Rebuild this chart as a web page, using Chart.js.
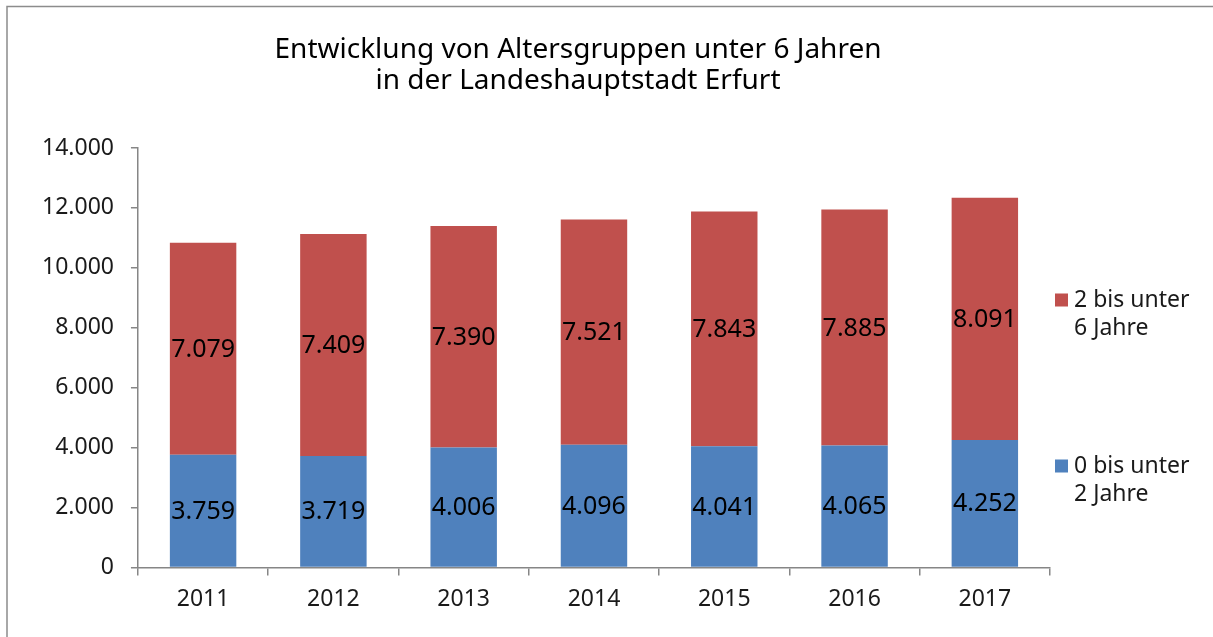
<!DOCTYPE html>
<html><head><meta charset="utf-8">
<script src="https://cdn.jsdelivr.net/npm/chart.js@4.4.0/dist/chart.umd.min.js"></script>
<style>html,body{margin:0;padding:0;background:#fff;}#wrap{width:1213px;height:637px;}</style>
</head><body><div id="wrap"><canvas id="c" width="1213" height="637"></canvas></div>
<script>
const categories = ['2011','2012','2013','2014','2015','2016','2017'];
const age0to2 = [3759,3719,4006,4096,4041,4065,4252];
const age2to6 = [7079,7409,7390,7521,7843,7885,8091];
const seriesNames = [['0 bis unter','2 Jahre'], ['2 bis unter','6 Jahre']];
const seriesColors = ['#4F81BD', '#C0504D'];
const titleLines = ['Entwicklung von Altersgruppen unter 6 Jahren', 'in der Landeshauptstadt Erfurt'];
const yMin = 0, yMax = 14000, yStep = 2000;

const FONT = "'Noto Sans', sans-serif";
function fmt(v){ return String(Math.round(v)).replace(/\B(?=(\d{3})+(?!\d))/g, '.'); }

const framePlugin = {
  id: 'frame',
  beforeDraw(chart){
    const ctx = chart.ctx;
    ctx.save();
    ctx.fillStyle = '#fff';
    ctx.fillRect(0,0,chart.width,chart.height);
    ctx.strokeStyle = '#8c8c8c';
    ctx.lineWidth = 1.5;
    ctx.beginPath();
    ctx.moveTo(7, chart.height);
    ctx.lineTo(7, 6.5);
    ctx.lineTo(chart.width, 6.5);
    ctx.stroke();
    // title
    ctx.fillStyle = '#000';
    ctx.font = "28px " + FONT;
    ctx.textAlign = 'center';
    ctx.textBaseline = 'alphabetic';
    ctx.fillText(titleLines[0], 578, 58);
    ctx.fillText(titleLines[1], 578, 89);
    ctx.restore();
  }
};

const labelPlugin = {
  id: 'barLabels',
  afterDatasetsDraw(chart){
    const ctx = chart.ctx;
    ctx.save();
    ctx.fillStyle = '#000';
    ctx.font = "25px " + FONT;
    ctx.textAlign = 'center';
    ctx.textBaseline = 'middle';
    chart.data.datasets.forEach((ds, di) => {
      chart.getDatasetMeta(di).data.forEach((bar, i) => {
        const p = bar.getProps(['x','y','base'], true);
        ctx.fillText(fmt(ds.data[i]), p.x, (p.y + p.base)/2 + 1);
      });
    });
    ctx.restore();
  }
};

const legendPlugin = {
  id: 'sideLegend',
  afterDraw(chart){
    const ctx = chart.ctx;
    const area = chart.chartArea;
    ctx.save();
    ctx.font = "23px " + FONT;
    ctx.textAlign = 'left';
    ctx.textBaseline = 'middle';
    // legend entries listed top to bottom: upper series first
    const order = [1, 0];
    const firstLineY = [area.top + 152, area.top + 318];
    order.forEach((si, k) => {
      const x0 = area.right + 5;
      const yy = firstLineY[k];
      ctx.fillStyle = seriesColors[si];
      ctx.fillRect(x0, yy - 6.5, 13, 13);
      ctx.fillStyle = '#1a1a1a';
      seriesNames[si].forEach((line, li) => {
        ctx.fillText(line, x0 + 19, yy + li * 28);
      });
    });
    ctx.restore();
  }
};

new Chart(document.getElementById('c'), {
  type: 'bar',
  data: {
    labels: categories,
    datasets: [
      { label: seriesNames[0].join(' '), data: age0to2, backgroundColor: seriesColors[0], borderWidth: 0, categoryPercentage: 1, barPercentage: 0.51 },
      { label: seriesNames[1].join(' '), data: age2to6, backgroundColor: seriesColors[1], borderWidth: 0, categoryPercentage: 1, barPercentage: 0.51 }
    ]
  },
  options: {
    responsive: false,
    animation: false,
    devicePixelRatio: 1,
    layout: { padding: { left: 25, right: 163, top: 148, bottom: 14 } },
    plugins: { legend: { display: false }, title: { display: false }, tooltip: { enabled: false } },
    scales: {
      x: {
        stacked: true,
        offset: true,
        border: { color: '#868686', width: 1.5 },
        grid: { offset: true, drawOnChartArea: false, drawTicks: true, tickLength: 8, color: '#868686', lineWidth: 1.5 },
        ticks: { color: '#1a1a1a', font: { family: FONT, size: 23 }, padding: 10 }
      },
      y: {
        stacked: true,
        min: yMin, max: yMax,
        border: { color: '#868686', width: 1.5 },
        grid: { drawOnChartArea: false, drawTicks: true, tickLength: 7, color: '#868686', lineWidth: 1.5 },
        ticks: { stepSize: yStep, color: '#1a1a1a', font: { family: FONT, size: 23 }, padding: 17, callback: v => fmt(v) }
      }
    }
  },
  plugins: [framePlugin, labelPlugin, legendPlugin]
});
</script></body></html>
